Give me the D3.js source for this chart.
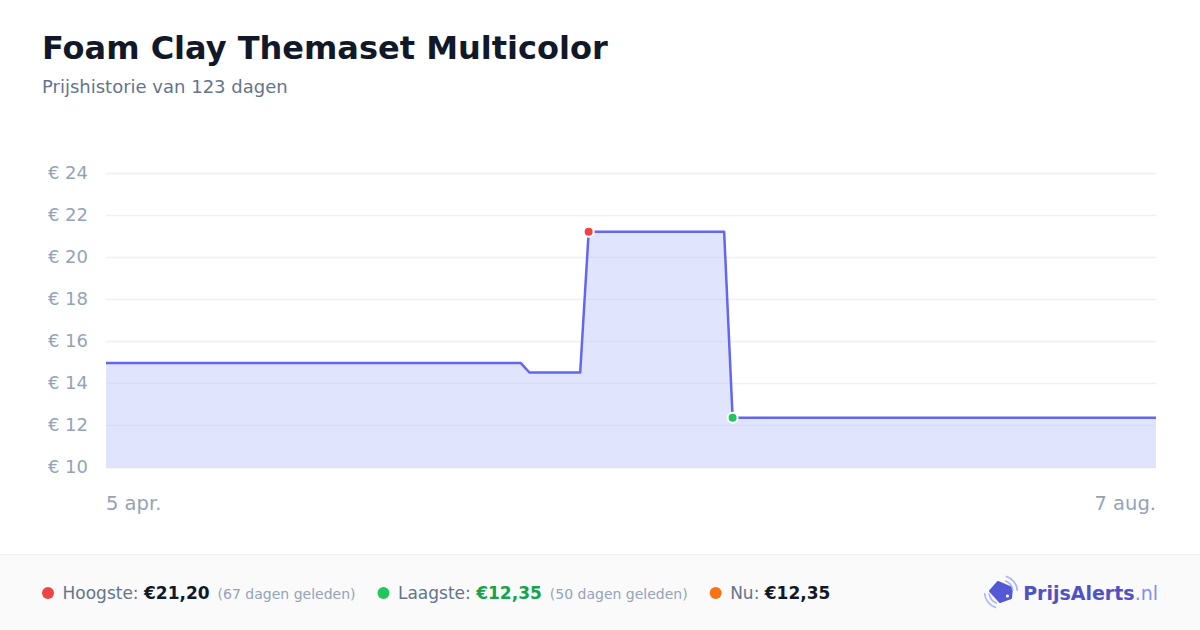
<!DOCTYPE html>
<html>
<head>
<meta charset="utf-8">
<script src="https://cdn.jsdelivr.net/npm/d3@7"></script>
<style>
  body { margin: 0; background: #fff; }
  svg { display: block; font-family: "DejaVu Sans", sans-serif; }
</style>
</head>
<body>
<svg id="chart" width="1200" height="630"></svg>
<script>
// price history data
const dates = ["2025-04-05", "2025-05-24", "2025-05-25", "2025-05-31", "2025-06-01", "2025-06-17", "2025-06-18", "2025-08-07"]
const prices = [14.95, 14.95, 14.50, 14.50, 21.20, 21.20, 12.35, 12.35]
const yTicks = [10, 12, 14, 16, 18, 20, 22, 24]
const xTickLabels = ["5 apr.", "7 aug."]

const title = "Foam Clay Themaset Multicolor"
const subtitle = "Prijshistorie van 123 dagen"

const parse = d3.timeParse("%Y-%m-%d")
const data = dates.map((d, i) => ({ date: parse(d), price: prices[i] }))

const width = 1200
const height = 630
const margin = { left: 106, right: 44, top: 173, bottom: 163 }

const svg = d3.select("#chart")

// Title
svg.append("text")
    .attr("x", 42).attr("y", 59)
    .attr("font-size", 32).attr("font-weight", "bold")
    .attr("fill", "#111827")
    .text(title)

svg.append("text")
    .attr("x", 42).attr("y", 93)
    .attr("font-size", 18)
    .attr("fill", "#64748b")
    .text(subtitle)

// Scales
const x = d3.scaleTime()
    .domain(d3.extent(data, d => d.date))
    .range([margin.left, width - margin.right])

const y = d3.scaleLinear()
    .domain([10, 24])
    .range([height - margin.bottom, margin.top])

// Area + gridlines
const area = d3.area()
    .x(d => x(d.date))
    .y0(y(10))
    .y1(d => y(d.price))

svg.append("path")
    .datum(data)
    .attr("d", area)
    .attr("fill", "#e0e5fd")

const yAxis = d3.axisLeft(y)
    .tickValues(yTicks)
    .tickSize(-(width - margin.left - margin.right))
    .tickPadding(18)
    .tickFormat(d => "€ " + d)

const gy = svg.append("g")
    .attr("transform", `translate(${margin.left},0)`)
    .call(yAxis)
gy.select(".domain").remove()
gy.selectAll(".tick line")
    .attr("stroke", d => d === 10 ? "#e2e4ea" : "rgba(200, 205, 215, 0.3)")
    .attr("stroke-width", 1.5)
gy.selectAll(".tick text")
    .attr("font-size", 18)
    .attr("fill", "#94a3b8")
    .attr("font-family", "DejaVu Sans, sans-serif")

// Line
const line = d3.line()
    .x(d => x(d.date))
    .y(d => y(d.price))

svg.append("path")
    .datum(data)
    .attr("d", line)
    .attr("fill", "none")
    .attr("stroke", "#6366f1")
    .attr("stroke-width", 2.5)
    .attr("stroke-linejoin", "round")

// X labels (first and last date only)
const xDomain = x.domain()
svg.selectAll(".xlabel")
    .data(xDomain)
    .join("text")
    .attr("x", d => x(d))
    .attr("y", 510)
    .attr("text-anchor", (d, i) => i === 0 ? "start" : "end")
    .attr("font-size", 19.5)
    .attr("fill", "#94a3b8")
    .text((d, i) => xTickLabels[i])

// Max / min markers
const maxPt = data.reduce((a, b) => b.price > a.price ? b : a)
const minPt = data.reduce((a, b) => b.price < a.price ? b : a)

svg.selectAll(".marker")
    .data([{ p: maxPt, c: "#ef4444" }, { p: minPt, c: "#22c55e" }])
    .join("circle")
    .attr("cx", d => x(d.p.date))
    .attr("cy", d => y(d.p.price))
    .attr("r", 5)
    .attr("fill", d => d.c)
    .attr("stroke", "#fff")
    .attr("stroke-width", 2)

// Footer
svg.append("rect")
    .attr("x", 0).attr("y", 554)
    .attr("width", width).attr("height", height - 554)
    .attr("fill", "#fafafa")
svg.append("line")
    .attr("x1", 0).attr("x2", width)
    .attr("y1", 554.5).attr("y2", 554.5)
    .attr("stroke", "#eeeeee")

const fmt = v => "€" + v.toFixed(2).replace(".", ",")
const lastPrice = prices[prices.length - 1]
const endDate = data[data.length - 1].date
const daysAgo = d => Math.round((endDate - d) / 864e5)

const stats = [
    { dot: "#ef4444", label: "Hoogste: ", value: fmt(maxPt.price), color: "#111827", note: `(${daysAgo(maxPt.date)} dagen geleden)` },
    { dot: "#22c55e", label: "Laagste: ", value: fmt(minPt.price), color: "#16a34a", note: `(${daysAgo(minPt.date)} dagen geleden)` },
    { dot: "#f97316", label: "Nu: ", value: fmt(lastPrice), color: "#111827", note: null }
]

let cx = 48
const fy = 599
stats.forEach(s => {
    svg.append("circle")
        .attr("cx", cx).attr("cy", fy - 6)
        .attr("r", 6)
        .attr("fill", s.dot)
    const t = svg.append("text")
        .attr("x", cx + 14.5).attr("y", fy)
        .attr("font-size", 17)
    t.append("tspan").attr("fill", "#64748b").text(s.label)
    t.append("tspan").attr("fill", s.color).attr("font-weight", "bold").text(s.value)
    if (s.note) {
        t.append("tspan").attr("fill", "#94a3b8").attr("font-size", 14).attr("dx", 8).text(s.note)
    }
    cx = cx + 14.5 + t.node().getBBox().width + 28
})

// Logo: tag with signal arcs
const logo = svg.append("g")
logo.append("path")
    .attr("d", "M990,591 L998,582 L1012,588 L1011,598 L1000,602 Z")
    .attr("fill", "#5558d4")
    .attr("stroke", "#5558d4")
    .attr("stroke-width", 2)
    .attr("stroke-linejoin", "round")
logo.append("circle").attr("cx", 1007.5).attr("cy", 596).attr("r", 1.6).attr("fill", "#fff")
const arc = d3.arc()
const arcs = logo.append("g").attr("transform", "translate(1001,592)")
;[[12, 0.35, 1.45], [16.5, 0.3, 1.5]].forEach(([r, a0, a1]) => {
    arcs.append("path")
        .attr("d", arc({ innerRadius: r - 0.8, outerRadius: r + 0.8, startAngle: a0, endAngle: a1 }))
        .attr("fill", "#a5b4fc")
    arcs.append("path")
        .attr("d", arc({ innerRadius: r - 0.8, outerRadius: r + 0.8, startAngle: Math.PI + a0, endAngle: Math.PI + a1 }))
        .attr("fill", "#a5b4fc")
})

const lt = svg.append("text")
    .attr("x", 1158).attr("y", 600)
    .attr("text-anchor", "end")
    .attr("font-size", 19)
lt.append("tspan").attr("fill", "#4f52c4").attr("font-weight", "bold").text("PrijsAlerts")
lt.append("tspan").attr("fill", "#818cf8").text(".nl")
</script>
</body>
</html>
